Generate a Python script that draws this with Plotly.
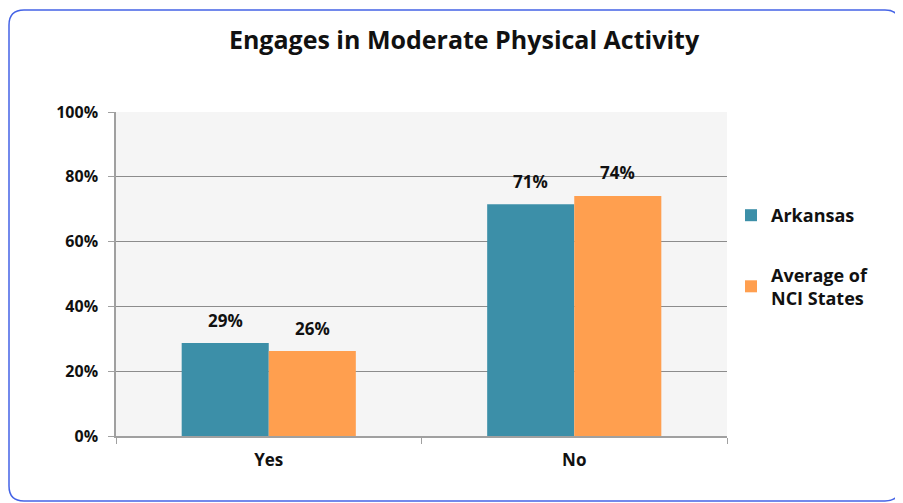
import plotly.graph_objects as go

categories = ["Yes", "No"]
arkansas = [28.7, 71.5]
nci_avg = [26.2, 74.1]
arkansas_labels = ["29%", "71%"]
nci_labels = ["26%", "74%"]
series_names = ["Arkansas", "Average of<br>NCI States"]
colors = ["#3C8FA8", "#FF9F4F"]
y_ticks = [0, 20, 40, 60, 80, 100]
y_ticklabels = ["0%", "20%", "40%", "60%", "80%", "100%"]

# page body has an 8px margin; figure coords = screen coords - 8
OFF = 8
W, H = 903 - OFF, 503 - OFF
ml, mt = 116 - OFF, 112 - OFF
mr = W - (727 - OFF)
mb = H - (436 - OFF)
pw, ph = W - ml - mr, H - mt - mb

FONT = "Open Sans, sans-serif"

fig = go.Figure()
for i, (vals, labs) in enumerate([(arkansas, arkansas_labels), (nci_avg, nci_labels)]):
    fig.add_trace(go.Bar(
        x=categories, y=vals, name="<b>" + series_names[i].replace("<br>", "</b><br><b>") + "</b>",
        marker=dict(color=colors[i], line=dict(width=0)),
        legendgroup=str(i),
    ))
    for c, v, t in zip(categories, vals, labs):
        fig.add_annotation(
            x=c, y=v, text="<b>" + t + "</b>", showarrow=False,
            xshift=(-43.5 if i == 0 else 43.5), yshift=23,
            font=dict(family=FONT, size=17, color="#111"),
        )

def px2paper(x, y):
    return (x - OFF - ml) / pw, (H - mb - (y - OFF)) / ph

# rounded border (screen coords)
x0, y0, x1, y1, r = 9, 10, 900, 501, 15
def P(x, y):
    a, b = px2paper(x, y)
    return f"{a:.5f},{b:.5f}"
path = (f"M {P(x0+r,y0)} L {P(x1-r,y0)} Q {P(x1,y0)} {P(x1,y0+r)} "
        f"L {P(x1,y1-r)} Q {P(x1,y1)} {P(x1-r,y1)} L {P(x0+r,y1)} "
        f"Q {P(x0,y1)} {P(x0,y1-r)} L {P(x0,y0+r)} Q {P(x0,y0)} {P(x0+r,y0)} Z")
fig.add_shape(type="path", path=path, xref="paper", yref="paper",
              line=dict(color="#4463E6", width=1.5), layer="below")

lx, ly = px2paper(731, 197)
fig.update_layout(
    width=W, height=H,
    margin=dict(l=ml, r=mr, t=mt, b=mb),
    paper_bgcolor="white", plot_bgcolor="#F5F5F5",
    barmode="group", bargap=0.43, bargroupgap=0,
    title=dict(text="<b>Engages in Moderate Physical Activity</b>",
               x=(464 - OFF) / W, xref="container", xanchor="center",
               y=1 - (40 - OFF)/H, yanchor="middle",
               font=dict(family=FONT, size=25, color="#111")),
    font=dict(family=FONT, color="#111"),
    showlegend=True,
    legend=dict(x=lx, y=ly, xanchor="left", yanchor="top",
                traceorder="grouped", tracegroupgap=33,
                font=dict(size=18, color="#111", family=FONT),
                bgcolor="rgba(0,0,0,0)", itemwidth=30),
    xaxis=dict(type="category", showline=True, linecolor="#A0A0A0", linewidth=1.5,
               ticks="outside", tickson="boundaries", ticklen=6, tickcolor="#A0A0A0",
               tickfont=dict(size=17, family=FONT),
               showgrid=False, ticklabelstandoff=8,
               tickvals=categories, ticktext=["<b>" + c + "</b>" for c in categories]),
    yaxis=dict(range=[0, 100], tickvals=y_ticks, ticktext=["<b>"+t+"</b>" for t in y_ticklabels],
               showline=True, linecolor="#A0A0A0", linewidth=1.5,
               ticks="outside", ticklen=6, tickcolor="#A0A0A0",
               gridcolor="#8C8C8C", gridwidth=1, zeroline=False,
               ticklabelstandoff=7,
               tickfont=dict(size=16, family=FONT)),
)
fig.write_html("out.html")
